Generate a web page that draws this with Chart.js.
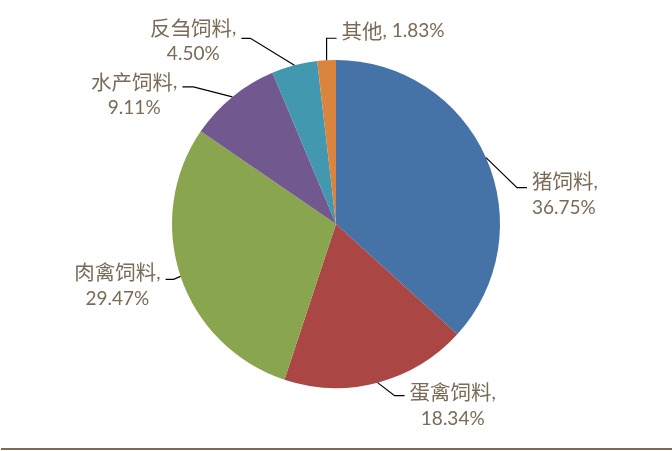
<!DOCTYPE html>
<html>
<head>
<meta charset="utf-8">
<script src="https://cdn.jsdelivr.net/npm/chart.js@4/dist/chart.umd.min.js"></script>
<style>
  html, body { margin: 0; padding: 0; background: #ffffff; }
  #wrap { position: relative; width: 672px; height: 451px; overflow: hidden; }
  #rule { position: absolute; left: 1px; right: 0; top: 448px; height: 2px; background: #7d6c52; }
</style>
</head>
<body>
<div id="wrap">
  <canvas id="c" width="672" height="451"></canvas>
  <div id="rule"></div>
</div>
<script>
// Feed sales share by category (%)
const categories = ['猪饲料', '蛋禽饲料', '肉禽饲料', '水产饲料', '反刍饲料', '其他'];
const shares = [36.75, 18.34, 29.47, 9.11, 4.50, 1.83];
const sliceColors = ['#4572A7', '#AA4643', '#89A54E', '#71588F', '#4198AF', '#DB843D'];

// Callout geometry for each slice label: elbow offset from the slice edge,
// horizontal tail length, text block alignment, whether the value wraps
const calloutElbow = [[31, 30], [17, 13], [-7, 3], [-39, -10], [-44, -27], [0, -22]];
const calloutTail = [10, 10, -8, -11, -9, 10];
const calloutAlign = ['left', 'center', 'center', 'center', 'center', 'left'];
const calloutWrap = [true, true, true, true, true, false];
const calloutLineShift = [-6, -3, -7, -5, -10, -7];

const LATIN_FONT = '19px Lato, sans-serif';
const CJK_FONT = '20.5px "Noto Sans CJK SC", sans-serif';
const LABEL_COLOR = '#7a6a56';
const LINE_GAP = 26;

// Split a string into runs of CJK / non-CJK characters so each gets its own face
function runsOf(s) {
  const out = [];
  for (const ch of s) {
    const cjk = ch.codePointAt(0) >= 0x2E80;
    const last = out[out.length - 1];
    if (last && last.cjk === cjk) last.text += ch;
    else out.push({ text: ch, cjk });
  }
  return out;
}
function measureMixed(ctx, s) {
  return runsOf(s).reduce((w, r) => {
    ctx.font = r.cjk ? CJK_FONT : LATIN_FONT;
    return w + ctx.measureText(r.text).width;
  }, 0);
}
function drawMixed(ctx, s, x, y) {
  runsOf(s).forEach(r => {
    ctx.font = r.cjk ? CJK_FONT : LATIN_FONT;
    ctx.fillText(r.text, x, y);
    x += ctx.measureText(r.text).width;
  });
}

const calloutPlugin = {
  id: 'callouts',
  afterDatasetsDraw(chart) {
    const ctx = chart.ctx;
    const arcs = chart.getDatasetMeta(0).data;
    ctx.save();
    ctx.textBaseline = 'middle';
    ctx.textAlign = 'left';
    arcs.forEach((arc, i) => {
      const p = arc.getProps(['x', 'y', 'startAngle', 'endAngle', 'outerRadius'], true);
      const mid = (p.startAngle + p.endAngle) / 2;
      const ax = p.x + Math.cos(mid) * p.outerRadius;
      const ay = p.y + Math.sin(mid) * p.outerRadius;
      const ex = ax + calloutElbow[i][0];
      const ey = ay + calloutElbow[i][1];
      const tx = ex + calloutTail[i];

      ctx.strokeStyle = '#000000';
      ctx.lineWidth = 1.2;
      ctx.beginPath();
      ctx.moveTo(ax, ay);
      ctx.lineTo(ex, ey);
      ctx.lineTo(tx, ey);
      ctx.stroke();

      const valueText = shares[i].toFixed(2) + '%';
      const lines = calloutWrap[i]
        ? [categories[i] + ',', valueText]
        : [categories[i] + ', ' + valueText];
      const widths = lines.map(s => measureMixed(ctx, s));
      const blockW = Math.max(...widths);
      const toRight = calloutTail[i] >= 0;
      const gap = 5;
      const blockLeft = toRight ? tx + gap : tx - gap - blockW;

      ctx.fillStyle = LABEL_COLOR;
      lines.forEach((s, k) => {
        const y = ey + calloutLineShift[i] + k * LINE_GAP;
        let x = blockLeft;
        if (calloutAlign[i] === 'center') x = blockLeft + (blockW - widths[k]) / 2;
        drawMixed(ctx, s, x, y);
      });
    });
    ctx.restore();
  }
};

new Chart(document.getElementById('c'), {
  type: 'pie',
  data: {
    labels: categories,
    datasets: [{
      data: shares,
      backgroundColor: sliceColors,
      borderWidth: 0
    }]
  },
  options: {
    responsive: false,
    animation: false,
    layout: { padding: { left: 172, right: 172, top: 60, bottom: 63 } },
    plugins: {
      legend: { display: false },
      tooltip: { enabled: false }
    }
  },
  plugins: [calloutPlugin]
});
</script>
</body>
</html>
